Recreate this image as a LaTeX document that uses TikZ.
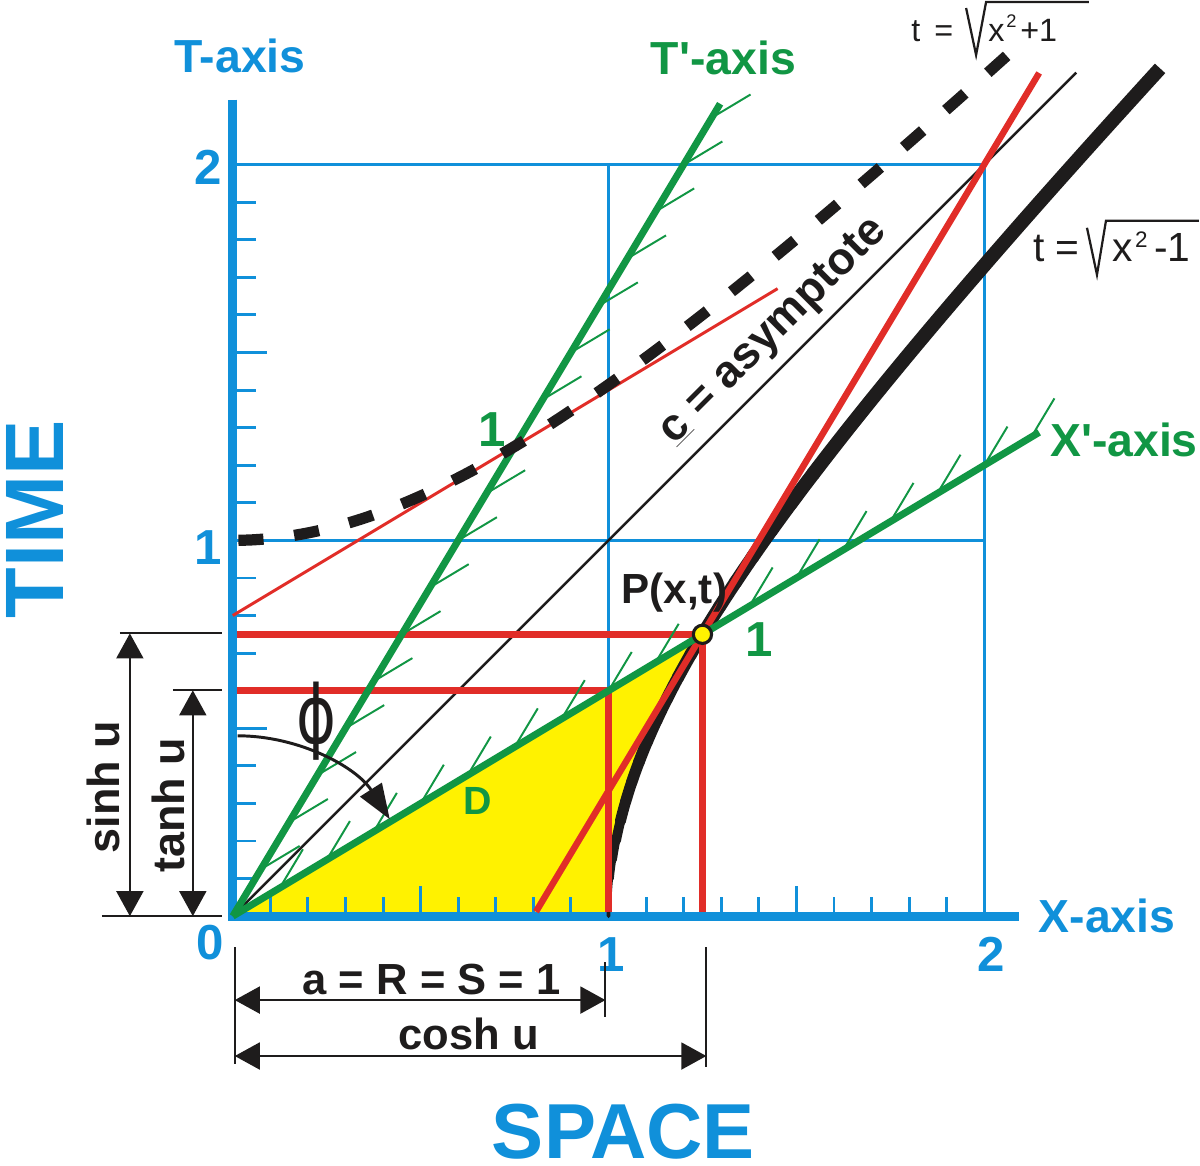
\documentclass[tikz,border=0pt]{standalone}
\usepackage{fontspec}
\setmainfont{Liberation Sans}[Ligatures=TeXOff]
\newfontfamily\phifont{DejaVu Sans}
\usepackage{graphicx}
\usetikzlibrary{arrows.meta}
\definecolor{axblue}{RGB}{16,144,218}
\definecolor{axgreen}{RGB}{17,150,68}
\definecolor{axred}{RGB}{225,45,40}
\definecolor{fillyel}{RGB}{255,242,0}
\definecolor{ink}{RGB}{30,28,28}
\newcommand\fsz[1]{\fontsize{#1}{#1}\selectfont}
\tikzset{
  pxscope/.style={x=0.025cm,y=-0.025cm,shift={(-233,-917)}},
  bluelab/.style={font=\fsz{33}\bfseries, text=axblue, inner sep=0pt},
  bluenum/.style={font=\fsz{35}\bfseries, text=axblue, inner sep=0pt, anchor=base},
  greenlab/.style={font=\fsz{33}\bfseries, text=axgreen, inner sep=0pt},
  inklab/.style={font=\fsz{31}\bfseries, text=ink, inner sep=0pt},
  fmlA/.style={font=\fsz{23}, text=ink, inner sep=0pt, anchor=base west},
  fmlB/.style={font=\fsz{29}, text=ink, inner sep=0pt, anchor=base west},
  radical/.style={draw=ink, line width=1.6pt, line join=miter},
  thinline/.style={draw=ink, line width=1.4pt},
  dimarrow/.style={draw=ink, line width=1.4pt,
    {Triangle[length=17.8pt,width=19.2pt]}-{Triangle[length=17.8pt,width=19.2pt]}},
  gridline/.style={draw=axblue, line width=2.1pt},
  axisline/.style={draw=axblue, line width=6.4pt, line join=miter},
  bluetick/.style={draw=axblue, line width=2.1pt},
  greenaxis/.style={draw=axgreen, line width=5pt},
  greentick/.style={draw=axgreen, line width=1.4pt},
  redthick/.style={draw=axred, line width=4.6pt},
  redthin/.style={draw=axred, line width=2.1pt},
}
\begin{document}
\begin{tikzpicture}[x=9.4cm,y=9.4cm]
\begin{scope}[pxscope]
  \path[use as bounding box] (0,0) rectangle (1200,1167);
\end{scope}

% yellow hyperbolic sector
\fill[fillyel] (0,0) -- (1.25,0.75) -- plot[domain=0.693147:0,samples=40,variable=\s]
   ({(exp(\s)+exp(-\s))/2},{(exp(\s)-exp(-\s))/2}) -- cycle;

% blue grid
\coordinate (O) at (0,0);
\coordinate (G01) at (0,1); \coordinate (G21) at (2,1);
\coordinate (G02) at (0,2); \coordinate (G22) at (2,2);
\coordinate (G10) at (1,0); \coordinate (G12) at (1,2);
\coordinate (G20) at (2,0);
\draw[gridline] (G01) -- (G21) (G02) -- (G22) (G10) -- (G12) (G20) -- (G22);

% ticks on axes
\foreach \k in {1,...,9,11,12,...,19}{
  \pgfmathsetmacro\lenT{(\k==5||\k==15)?0.0904:0.0612}
  \pgfmathsetmacro\lenX{(\k==5||\k==15)?0.0798:0.0505}
  \draw[bluetick] (0,\k/10) -- ++(\lenT,0);
  \draw[bluetick] (\k/10,0) -- ++(0,\lenX);
}
% axes
\coordinate (Ttop) at (0,2.173);
\coordinate (Xend) at (2.093,0);
\draw[axisline] (Ttop) -- (O) -- (Xend);

% asymptote
\coordinate (Aend) at (2.245,2.245);
\draw[ink, line width=1.8pt] (O) -- (Aend);

% thick hyperbola t = sqrt(x^2-1), tapering near vertex
\foreach \k in {0,...,19}{
  \pgfmathsetmacro\a{\k/20}
  \pgfmathsetmacro\b{(\k+1)/20}
  \pgfmathsetmacro\m{(\k+0.5)/20}
  \pgfmathsetmacro\w{((\m<0.27)?(3+30*\m):(11+3*(\m-0.27)/0.73))*0.7113}
  \draw[ink, line width=\w pt, line cap=round] plot[domain=\a:\b, samples=4, variable=\s]
    ({(exp(\s)+exp(-\s))/2},{(exp(\s)-exp(-\s))/2});
}
\draw[ink, line width=10pt, line join=round] plot[domain=1:1.553, samples=30, variable=\s]
    ({(exp(\s)+exp(-\s))/2},{(exp(\s)-exp(-\s))/2});

% red lines
\coordinate (R1a) at (0,0.8); \coordinate (R1b) at (1.45,1.67);
\draw[redthin] (R1a) -- (R1b);
\coordinate (R2a) at (0.807,0.012); \coordinate (R2b) at (2.146,2.244);
\draw[redthick] (R2a) -- (R2b);
\coordinate (S0) at (0.012,0.75); \coordinate (Pp) at (1.25,0.75); \coordinate (S1) at (1.25,0.012);
\draw[redthick] (S0) -- (Pp) -- (S1);
\coordinate (H0) at (0.012,0.6); \coordinate (H1) at (1,0.6); \coordinate (H2) at (1,0.012);
\draw[redthick] (H0) -- (H1) -- (H2);

% green primed axes with ticks
\coordinate (Tp) at (1.297,2.162);
\coordinate (Xp) at (2.146,1.2876);
\draw[greenaxis] (O) -- (Tp);
\draw[greenaxis] (O) -- (Xp);
\foreach \k in {1,...,9,11,12,...,17}{
  \draw[greentick] (0.075*\k,0.125*\k) -- ++(0.103,0.0617);
  \draw[greentick] (0.125*\k,0.075*\k) -- ++(0.0617,0.103);
}

% dashed hyperbola t = sqrt(x^2+1), drawn from the top end downwards
\draw[ink, line width=8pt, dash pattern=on 18pt off 22pt] plot[domain=1.47:0.014, samples=80, variable=\s]
   ({(exp(\s)-exp(-\s))/2},{(exp(\s)+exp(-\s))/2});

% point P
\node[circle, draw=ink, fill=yellow, line width=2.2pt, minimum size=13pt, inner sep=0pt] (P) at (1.25,0.75) {};

% angle phi
\coordinate (Phi0) at (0.013,0.48);
\draw[ink, line width=2.1pt, -{Triangle[length=25pt,width=18pt]}] (Phi0) arc[start angle=90, end angle=32.5, radius=0.48];

% ---- labels and dimensions in pixel coordinates ----
\begin{scope}[pxscope]
  \node[bluelab, anchor=base] (lT) at (240,73) {T-axis};
  \node[greenlab, anchor=base] (lTp) at (724,75) {T'-axis};
  \node[greenlab, anchor=base] (lXp) at (1125,457) {X'-axis};
  \node[bluelab, anchor=base] (lX) at (1108,933) {X-axis};
  \node[bluenum] (n2t) at (208,185) {2};
  \node[bluenum] (n1t) at (208,565) {1};
  \node[bluenum] (n0) at (210,960) {0};
  \node[bluenum] (n1x) at (612,972) {1};
  \node[bluenum] (n2x) at (992,972) {2};
  \node[font=\fsz{59}\bfseries, text=axblue, inner sep=0pt, rotate=90] (ltime) at (35,520) {TIME};
  \node[font=\fsz{55.5}\bfseries, text=axblue, inner sep=0pt, anchor=base] (lspace) at (624,1160) {SPACE};
  \node[font=\fsz{35}\bfseries, text=axgreen, inner sep=0pt, anchor=base] (g1a) at (493,447) {1};
  \node[font=\fsz{35}\bfseries, text=axgreen, inner sep=0pt, anchor=base] (g1b) at (760,657) {1};
  \node[font=\fsz{28}\bfseries, text=axgreen, inner sep=0pt, anchor=base] (lD) at (478,815) {D};
  \node[inklab, font=\fsz{30}\bfseries, anchor=base] (lP) at (675,604) {P(x,t)};
  \node[inklab, font=\fsz{32}\bfseries, rotate=45] (lasym) at (775,332) {\underline{c} = asymptote};
  \node[inner sep=0pt, text=ink] (lphi) at (317,722) {\scalebox{1.2}[1.6]{\fsz{36}\phifont ϕ}};

  % formula t = sqrt(x^2+1)
  \node[fmlA] (f1t) at (912,42) {t};
  \node[fmlA] (f1e) at (935,42) {=};
  \coordinate (r1a) at (967,8); \coordinate (r1b) at (977,55);
  \coordinate (r1c) at (987,2); \coordinate (r1d) at (1090,2);
  \draw[radical] (r1a) -- (r1b) -- (r1c) -- (r1d);
  \node[fmlA] (f1x) at (989,42) {x};
  \node[fmlA, font=\fsz{13}] (f1s) at (1007,28) {2};
  \node[fmlA] (f1p) at (1021,42) {+1};

  % formula t = sqrt(x^2-1)
  \node[fmlB] (f2t) at (1034,262) {t};
  \node[fmlB] (f2e) at (1056,262) {=};
  \coordinate (r2a) at (1088,228); \coordinate (r2b) at (1098,275);
  \coordinate (r2c) at (1107,221); \coordinate (r2d) at (1200,221);
  \draw[radical] (r2a) -- (r2b) -- (r2c) -- (r2d);
  \node[fmlB] (f2x) at (1113,262) {x};
  \node[fmlB, font=\fsz{16}] (f2s) at (1136,248) {2};
  \node[fmlB] (f2m) at (1155,262) {-1};

  % left dimensions
  \coordinate (e1a) at (102,917); \coordinate (e1b) at (222,917);
  \coordinate (e2a) at (120,634); \coordinate (e2b) at (222,634);
  \coordinate (e3a) at (173,691); \coordinate (e3b) at (222,691);
  \draw[thinline] (e1a) -- (e1b) (e2a) -- (e2b) (e3a) -- (e3b);
  \coordinate (sA) at (130,917); \coordinate (sB) at (130,634);
  \coordinate (tA) at (193,917); \coordinate (tB) at (193,691);
  \draw[dimarrow] (sA) -- (sB);
  \draw[dimarrow] (tA) -- (tB);
  \node[inklab, font=\fsz{32}\bfseries, rotate=90] (lsinh) at (104,788) {sinh u};
  \node[inklab, font=\fsz{32}\bfseries, rotate=90] (ltanh) at (169,806) {tanh u};

  % bottom dimensions
  \coordinate (b1a) at (235,948); \coordinate (b1b) at (235,1065);
  \coordinate (b2a) at (606,963); \coordinate (b2b) at (606,1018);
  \coordinate (b3a) at (707,948); \coordinate (b3b) at (707,1068);
  \draw[thinline] (b1a) -- (b1b) (b2a) -- (b2b) (b3a) -- (b3b);
  \coordinate (aA) at (235,1001); \coordinate (aB) at (606,1001);
  \coordinate (cA) at (235,1057); \coordinate (cB) at (707,1057);
  \draw[dimarrow] (aA) -- (aB);
  \draw[dimarrow] (cA) -- (cB);
  \node[inklab, anchor=base] (la) at (432,995) {a = R = S = 1};
  \node[inklab, anchor=base] (lcosh) at (469,1050) {cosh u};
\end{scope}
\end{tikzpicture}
\end{document}
